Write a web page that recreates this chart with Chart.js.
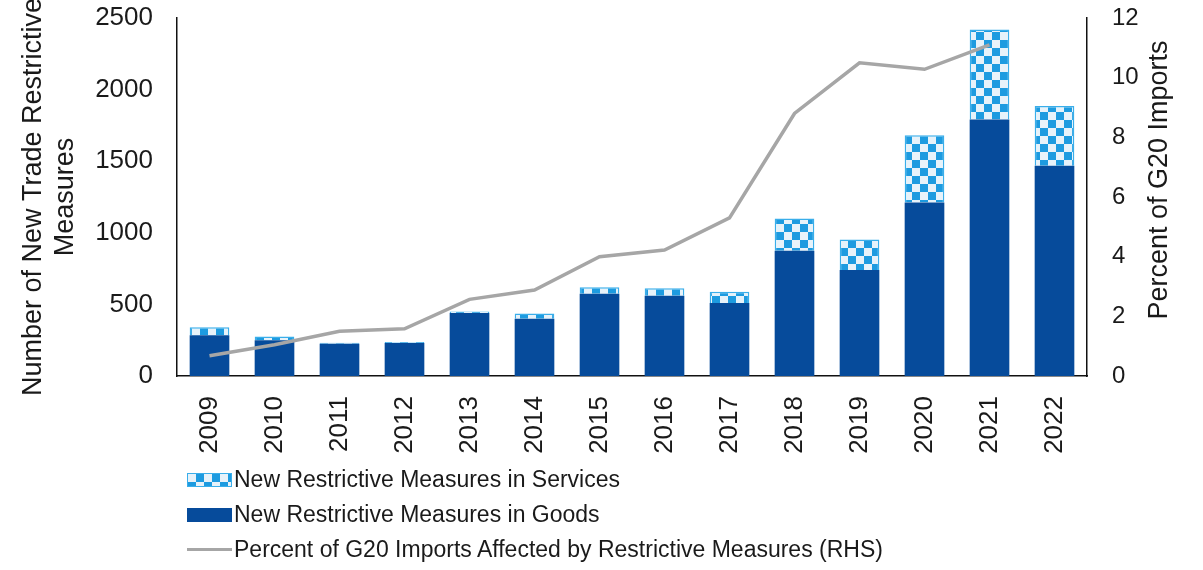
<!DOCTYPE html>
<html>
<head>
<meta charset="utf-8">
<script src="https://cdn.jsdelivr.net/npm/chart.js@4/dist/chart.umd.min.js"></script>
<style>
  body { margin: 0; background: #fff; }
  #wrap { position: relative; width: 1203px; height: 570px; }
  #legend {
    position: absolute; left: 187px; top: 462px;
    font: 23px "Liberation Sans", Arial, sans-serif; color: #1a1a1a;
  }
  .row { display: flex; align-items: center; height: 35px; white-space: nowrap; }
  .sw { width: 45px; margin-right: 2px; }
  .sw.services {
    height: 14px;
    background: repeating-conic-gradient(#1d9be0 0 25%, #e6f2fa 0 50%) 0 0 / 16px 16px;
    box-sizing: border-box; border: 1px solid #3aaeea;
  }
  .sw.goods { height: 14px; background: #064b9b; }
  .sw.line { height: 3px; background: #a6a6a6; }
</style>
</head>
<body>
<div id="wrap">
  <canvas id="chart" width="1203" height="570"></canvas>
  <div id="legend">
    <div class="row"><span class="sw services"></span>New Restrictive Measures in Services</div>
    <div class="row"><span class="sw goods"></span>New Restrictive Measures in Goods</div>
    <div class="row"><span class="sw line"></span>Percent of G20 Imports Affected by Restrictive Measures (RHS)</div>
  </div>
</div>
<script>
const years = ['2009', '2010', '2011', '2012', '2013', '2014', '2015',
               '2016', '2017', '2018', '2019', '2020', '2021', '2022'];
const goods = [285, 250, 225, 230, 440, 400, 575, 560, 510, 875, 740, 1212, 1792, 1468];
const services = [55, 25, 8, 7, 10, 37, 45, 52, 78, 225, 214, 470, 627, 417];
const importsShare = [0.68, 1.05, 1.5, 1.58, 2.57, 2.88, 4.0, 4.22, 5.3, 8.8, 10.5, 10.28, 11.1, null];
const leftTicks = [0, 500, 1000, 1500, 2000, 2500];
const rightTicks = [0, 2, 4, 6, 8, 10, 12];

const FONT = '"Liberation Sans", Arial, sans-serif';
const TEXT = '#1a1a1a';

const canvas = document.getElementById('chart');
const ctx = canvas.getContext('2d');

// light blue / white checkerboard for the services segment
function checker() {
  const c = document.createElement('canvas');
  c.width = c.height = 16;
  const g = c.getContext('2d');
  g.fillStyle = '#e6f2fa';
  g.fillRect(0, 0, 16, 16);
  g.fillStyle = '#1d9be0';
  g.fillRect(0, 0, 8, 8);
  g.fillRect(8, 8, 8, 8);
  return ctx.createPattern(c, 'repeat');
}

// fixed axis box sizes, no extra room for half tick labels
const fixWidth = w => s => {
  s.width = w;
  s.paddingTop = 0;
  s.paddingBottom = 0;
};

// right-hand axis title reads bottom to top
const rightTitle = {
  id: 'rightTitle',
  afterDraw(chart) {
    const { ctx, chartArea } = chart;
    ctx.save();
    ctx.translate(1160, (chartArea.top + chartArea.bottom) / 2 - 17);
    ctx.rotate(-Math.PI / 2);
    ctx.font = '27px ' + FONT;
    ctx.fillStyle = TEXT;
    ctx.textAlign = 'center';
    ctx.textBaseline = 'middle';
    ctx.fillText('Percent of G20 Imports', 0, 0);
    ctx.restore();
  }
};

new Chart(ctx, {
  data: {
    labels: years,
    datasets: [{
      type: 'line',
      label: 'Percent of G20 Imports Affected by Restrictive Measures (RHS)',
      data: importsShare,
      yAxisID: 'y1',
      borderColor: '#a6a6a6',
      borderWidth: 3.5,
      pointRadius: 0,
      tension: 0,
      order: 0
    }, {
      type: 'bar',
      label: 'New Restrictive Measures in Goods',
      data: goods,
      yAxisID: 'y',
      backgroundColor: '#064b9b',
      categoryPercentage: 1,
      barPercentage: 0.61,
      order: 1
    }, {
      type: 'bar',
      label: 'New Restrictive Measures in Services',
      data: services,
      yAxisID: 'y',
      backgroundColor: checker(),
      borderColor: '#3aaeea',
      borderWidth: 1.5,
      borderSkipped: 'bottom',
      categoryPercentage: 1,
      barPercentage: 0.61,
      order: 1
    }]
  },
  options: {
    responsive: false,
    animation: false,
    layout: { padding: { top: 18, left: 0, right: 0, bottom: 0 } },
    plugins: {
      legend: { display: false },
      tooltip: { enabled: false }
    },
    scales: {
      x: {
        stacked: true,
        grid: { display: false },
        border: { color: '#111', width: 1.5 },
        ticks: {
          color: TEXT,
          font: { family: FONT, size: 26 },
          minRotation: 90,
          maxRotation: 90,
          padding: 12
        },
        afterFit: s => {
          s.height = 194;
          s.paddingLeft = 0;
          s.paddingRight = 0;
        }
      },
      y: {
        stacked: true,
        min: 0,
        max: 2500,
        grid: { display: false, drawTicks: false },
        border: { color: '#111', width: 1.5 },
        afterBuildTicks: s => { s.ticks = leftTicks.map(v => ({ value: v })); },
        ticks: {
          color: TEXT,
          font: { family: FONT, size: 26 },
          padding: 24,
          callback: v => String(v)
        },
        title: {
          display: true,
          text: ['Number of New Trade Restrictive', 'Measures'],
          color: TEXT,
          font: { family: FONT, size: 27 },
          padding: { top: 17, bottom: 0 }
        },
        afterFit: fixWidth(177)
      },
      y1: {
        position: 'right',
        min: 0,
        max: 12,
        grid: { display: false, drawTicks: false },
        border: { color: '#111', width: 1.5 },
        afterBuildTicks: s => { s.ticks = rightTicks.map(v => ({ value: v })); },
        ticks: {
          color: TEXT,
          font: { family: FONT, size: 24 },
          padding: 25,
          callback: v => String(v)
        },
        afterFit: fixWidth(116)
      }
    }
  },
  plugins: [rightTitle]
});
</script>
</body>
</html>
